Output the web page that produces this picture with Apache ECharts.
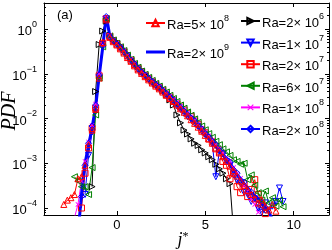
<!DOCTYPE html>
<html><head><meta charset="utf-8">
<script src="https://cdn.jsdelivr.net/npm/echarts@6/dist/echarts.min.js"></script>
<style>html,body{margin:0;padding:0;background:#fff}#c{width:332px;height:250px}</style>
</head><body><div id="c"></div>
<script>
const jBins = [
 -3.0,-2.8,-2.6,-2.4,-2.2,-2.0,-1.8,-1.6,
 -1.4,-1.2,-1.0,-0.8,-0.6,-0.4,-0.2,0.0,
 0.2,0.4,0.6,0.8,1.0,1.2,1.4,1.6,
 1.8,2.0,2.2,2.4,2.6,2.8,3.0,3.2,
 3.4,3.6,3.8,4.0,4.2,4.4,4.6,4.8,
 5.0,5.2,5.4,5.6,5.8,6.0,6.2,6.4,
 6.6,6.8,7.0,7.2,7.4,7.6,7.8,8.0,
 8.2,8.4,8.6,8.8,9.0,9.2,9.4,9.6];
const ra2e6 = [
 null,null,null,null,null,null,null,null,
 3e-4,0.04,0.45,0.9,1.5,0.72,0.6,0.52,
 0.43,0.35,0.28,0.22,0.18,0.145,0.12,0.1,
 0.084,0.07,0.059,0.05,0.042,0.034,0.026,0.02,
 0.012,0.008,0.0055,0.0045,0.0035,0.0028,0.0025,0.002,
 0.0017,0.0014,0.0012,9.5e-4,7.5e-4,6e-4,4.5e-4,3.5e-4,
 3e-5,null,null,null,null,null,null,null,
 null,null,null,null,null,null,null,null];
const ra1e7 = [
 null,null,null,null,null,null,2e-4,1.5e-3,
 5e-3,1.5e-2,8e-2,0.45,1.6,0.66,0.53,0.45,
 0.37,0.3,0.24,0.19,0.155,0.125,0.104,0.088,
 0.074,0.063,0.054,0.046,0.039,0.033,0.028,0.023,
 0.019,0.016,0.013,0.011,0.0095,0.0078,0.0066,0.0052,
 0.0043,0.0036,0.0027,5e-4,0.0019,0.0016,0.0011,9e-4,
 5.5e-4,4.2e-4,3.5e-4,2.2e-4,2.0e-4,1.4e-4,1.6e-4,1.0e-4,
 8e-5,1.3e-4,9e-5,1.1e-4,1.4e-4,2.8e-4,1.4e-4,null];
const ra2e7 = [
 null,null,null,null,null,1e-4,6e-4,2.2e-3,
 6e-3,1.7e-2,9e-2,0.48,1.7,0.68,0.55,0.46,
 0.38,0.31,0.25,0.2,0.16,0.13,0.11,0.092,
 0.078,0.066,0.057,0.049,0.042,0.035,0.03,0.025,
 0.021,0.018,0.0155,0.0128,0.011,0.0088,0.0074,0.0056,
 0.0048,0.0035,0.003,0.0021,0.0017,0.0011,9e-4,4.5e-4,
 6e-4,3e-4,2.2e-4,3.5e-4,1.8e-4,2.6e-4,4.3e-4,2e-4,
 1.2e-4,7.5e-5,null,null,null,null,null,null];
const ra6e7 = [
 null,null,null,5e-4,4e-4,3e-4,3e-4,2e-4,
 8e-4,1.2e-2,8e-2,0.4,1.7,0.7,0.57,0.48,
 0.4,0.33,0.26,0.21,0.17,0.14,0.115,0.097,
 0.083,0.071,0.061,0.053,0.045,0.039,0.033,0.028,
 0.024,0.02,0.017,0.014,0.0118,0.0098,0.0082,0.0068,
 0.0056,0.0046,0.0038,0.0031,0.0026,0.0021,0.0018,0.0015,
 0.0012,0.0011,9.5e-4,1.0e-3,4.3e-4,5.5e-4,3.2e-4,2.2e-4,
 1.5e-4,2.4e-4,1.3e-4,1.7e-4,1.1e-4,1.5e-4,1.07e-4,null];
const ra1e8 = [
 null,null,null,6e-5,1.2e-4,4e-4,1.1e-3,3e-3,
 7e-3,2.1e-2,0.1,0.45,1.8,0.72,0.57,0.48,
 0.4,0.33,0.26,0.21,0.17,0.135,0.112,0.096,
 0.081,0.07,0.06,0.052,0.044,0.037,0.032,0.027,
 0.023,0.019,0.0158,0.013,0.011,0.0092,0.0075,0.006,
 0.005,0.0041,0.0033,0.0026,0.0021,0.0017,0.0013,0.0011,
 8e-4,6e-4,4.6e-4,3.2e-4,2.4e-4,1.6e-4,1.2e-4,8e-5,
 null,null,null,null,null,null,null,null];
const ra2e8 = [
 null,null,null,null,3e-5,1.8e-4,9e-4,2.8e-3,
 6.8e-3,2.0e-2,9.5e-2,0.42,1.9,0.68,0.55,0.46,
 0.39,0.31,0.26,0.2,0.165,0.13,0.108,0.094,
 0.078,0.067,0.057,0.051,0.042,0.036,0.03,0.026,
 0.021,0.018,0.0148,0.0125,0.0102,0.0089,0.0069,0.0059,
 0.0046,0.0039,0.0031,0.0026,0.0019,0.0017,0.0012,0.00105,
 7.2e-4,6e-4,4.2e-4,3.8e-4,2.6e-4,2.3e-4,1.7e-4,1.5e-4,
 1.1e-4,9e-5,null,null,null,null,null,null];
const ra5e8 = [
 1.2e-4,1.5e-4,1.7e-4,2.0e-4,4.5e-4,5.0e-4,9e-4,2.6e-3,
 5.5e-3,1.6e-2,8e-2,0.5,1.6,0.65,0.52,0.44,
 0.36,0.29,0.23,0.19,0.15,0.122,0.102,0.086,
 0.073,0.062,0.053,0.046,0.039,0.033,0.028,0.024,
 0.02,0.0165,0.0138,0.0115,0.0094,0.0078,0.0064,0.0052,
 0.0042,0.0035,0.0028,0.0022,0.0018,0.0014,0.0011,8.6e-4,
 6.8e-4,5.2e-4,4.0e-4,3.2e-4,2.5e-4,2.0e-4,1.6e-4,1.3e-4,
 1.5e-4,1.1e-4,9e-5,1.2e-4,8.5e-5,null,null,null];
const ra2e9 = [
 null,null,null,null,2.5e-5,2.0e-4,1.0e-3,2.5e-3,
 6.3e-3,1.8e-2,8.9e-2,0.38,2.0,0.71,0.56,0.47,
 0.38,0.32,0.25,0.2,0.16,0.13,0.11,0.093,
 0.079,0.068,0.058,0.05,0.043,0.036,0.031,0.026,
 0.022,0.018,0.015,0.0126,0.0105,0.0087,0.0071,0.0058,
 0.0047,0.0038,0.0032,0.0025,0.002,0.0016,0.00126,0.001,
 7.6e-4,5.6e-4,4.5e-4,3.5e-4,2.8e-4,2.2e-4,1.9e-4,1.6e-4,
 1.26e-4,1.0e-4,8e-5,5.6e-5,null,null,null,null];

const seriesNames = ['Ra=2× 10^6','Ra=1× 10^7','Ra=2× 10^7','Ra=6× 10^7','Ra=1× 10^8','Ra=2× 10^8','Ra=5× 10^8','Ra=2× 10^9'];
const legendLeft = ['Ra=5× 10^8','Ra=2× 10^9'];
const legendRight = ['Ra=2× 10^6','Ra=1× 10^7','Ra=2× 10^7','Ra=6× 10^7','Ra=1× 10^8','Ra=2× 10^8'];
const xTicks = [0, 5, 10];
const yTicks = [1e-4, 1e-3, 1e-2, 1e-1, 1];
const yMinorTicks = [];
for (const d of [1e-5,1e-4,1e-3,1e-2,1e-1,1]) for (let k=2;k<=9;k++) yMinorTicks.push(+(k*d).toPrecision(3));

const X_MIN = -4.12, X_MAX = 12, Y_MIN = 6.98e-5, Y_MAX = 3.81;
const FONT = 'Liberation Sans, Arial, sans-serif';
const SERIF = '"Liberation Serif", "DejaVu Serif", serif';

const xPath = 'path://M0,1.2L1.2,0L5,3.8L8.8,0L10,1.2L6.2,5L10,8.8L8.8,10L5,6.2L1.2,10L0,8.8L3.8,5Z';
const styles = [
  {c:'#000000', sym:'triangle', rot:-90},
  {c:'#0000ff', sym:'triangle', rot:180},
  {c:'#ff0000', sym:'rect', rot:0},
  {c:'#008000', sym:'triangle', rot:90},
  {c:'#ff00ff', sym:xPath, rot:0},
  {c:'#0000ff', sym:'diamond', rot:0},
  {c:'#ff0000', sym:'triangle', rot:0},
  {c:'#0000ff', sym:'none', rot:0, w:3}
];
const allData = [ra2e6, ra1e7, ra2e7, ra6e7, ra1e8, ra2e8, ra5e8, ra2e9];

const series = allData.map((arr, i) => {
  const s = styles[i];
  const solid = s.sym === xPath || s.sym === 'none';
  return {
    name: seriesNames[i],
    type: 'line',
    xAxisIndex: 0, yAxisIndex: 0,
    data: jBins.map((x, k) => [x, arr[k]]),
    symbol: s.sym,
    symbolSize: s.sym === xPath ? 5 : 6,
    symbolRotate: s.rot,
    showSymbol: s.sym !== 'none',
    clip: true,
    animation: false,
    lineStyle: {color: s.c, width: s.w || 1},
    itemStyle: {color: solid ? s.c : 'rgba(255,255,255,0)', borderColor: s.c, borderWidth: solid ? 0 : 1},
    emphasis: {disabled: true}
  };
});

const supRich = {
  b: {fontFamily: FONT, fontSize: 13, color: '#000', lineHeight: 18, verticalAlign: 'bottom'},
  s: {fontFamily: FONT, fontSize: 9, color: '#000', lineHeight: 18, verticalAlign: 'top'}
};
const legText = n => { const p = n.split('^'); return '{b|' + p[0] + '}{s|' + p[1] + '}'; };
const legendCommon = {
  orient: 'vertical', itemWidth: 19, itemHeight: 8,
  formatter: legText,
  textStyle: {fontFamily: FONT, fontSize: 13, color: '#000', padding: [0,0,0,-3], rich: supRich},
  selectedMode: false
};

const axisBase = {
  type: 'value', min: X_MIN, max: X_MAX, splitLine: {show: false},
  axisLine: {onZero: false, lineStyle: {color: '#000', width: 1}}
};
const yLabelFmt = v => { const e = Math.round(Math.log10(v)); return '{b|10}{s|' + (e < 0 ? '−' + (-e) : e) + '}'; };

const chart = echarts.init(document.getElementById('c'), null, {renderer: 'canvas'});
chart.setOption({
  animation: false,
  backgroundColor: '#fff',
  grid: {left: 44, right: 3, top: 3, bottom: 35, containLabel: false},
  xAxis: [
    Object.assign({}, axisBase, {position: 'bottom',
      axisTick: {inside: true, length: 4, lineStyle: {color: '#000'}, customValues: xTicks},
      axisLabel: {customValues: xTicks, color: '#000', fontFamily: FONT, fontSize: 13, margin: 4}}),
    Object.assign({}, axisBase, {position: 'top',
      axisTick: {inside: true, length: 4, lineStyle: {color: '#000'}, customValues: xTicks},
      axisLabel: {show: false}})
  ],
  yAxis: [0,1,2,3].map(i => ({
    type: 'log', min: Y_MIN, max: Y_MAX, position: (i % 2 === 0) ? 'left' : 'right',
    splitLine: {show: false},
    axisLine: {show: i < 2, onZero: false, lineStyle: {color: '#000', width: 1}},
    axisTick: {inside: true, length: i < 2 ? 4 : 2, lineStyle: {color: '#000'}, customValues: i < 2 ? yTicks : yMinorTicks},
    axisLabel: i === 0 ? {customValues: yTicks, formatter: yLabelFmt, color: '#000', fontFamily: FONT, fontSize: 13, margin: 7,
      rich: supRich} : {show: false}
  })),
  legend: [
    Object.assign({}, legendCommon, {data: [{name: legendLeft[0]}, {name: legendLeft[1], icon: 'path://M0,0H19V3H0Z'}], left: 140, top: 9, itemGap: 11}),
    Object.assign({}, legendCommon, {data: legendRight, left: 235, top: 7, itemGap: 3.6})
  ],
  graphic: [
    {type: 'text', left: 57, top: 9, style: {text: '(a)', font: '13px ' + FONT, fill: '#000'}},
    {type: 'text', x: 10, y: 111, rotation: Math.PI / 2,
     style: {text: 'PDF', font: 'italic 20px ' + SERIF, fill: '#000', align: 'center', verticalAlign: 'middle'}},
    {type: 'text', x: 183, y: 240,
     style: {text: '{j|j}{s|*}', fill: '#000', align: 'center', verticalAlign: 'middle',
       rich: {j: {font: 'italic 18px ' + SERIF, fill: '#000', lineHeight: 18, verticalAlign: 'bottom'},
              s: {font: '12px ' + SERIF, fill: '#000', lineHeight: 18, verticalAlign: 'top'}}}}
  ],
  series: series
});
</script></body></html>
